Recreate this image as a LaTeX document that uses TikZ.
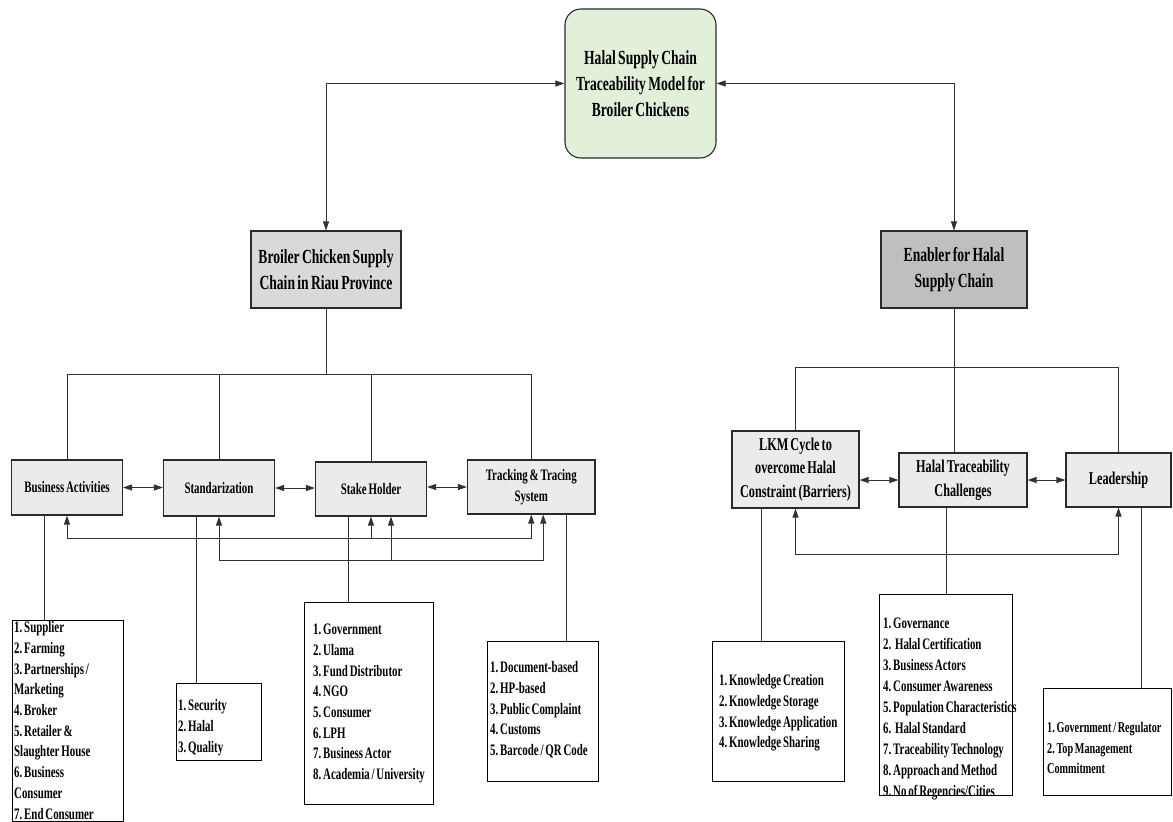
\documentclass[tikz,border=0pt]{standalone}
\usepackage{fontspec}
\setmainfont{Liberation Serif}[FakeStretch=0.68,WordSpace=0.68]
\usetikzlibrary{arrows.meta}

\definecolor{edgec}{HTML}{2A2A2A}
\definecolor{wirec}{HTML}{333333}
\definecolor{rootfill}{HTML}{E2EFD9}
\definecolor{hubfill}{HTML}{D9D9D9}
\definecolor{hubdark}{HTML}{BFBFBF}
\definecolor{itemfill}{HTML}{EBEBEB}

\begin{document}
\frenchspacing
\begin{tikzpicture}[x=1pt, y=-1pt,
  >={Triangle[length=9pt,width=6pt]},
  box/.style={draw=edgec, line width=1.1pt, inner sep=0pt, align=center, text=black},
  rootbox/.style={box, fill=rootfill, rounded corners=16pt, font=\fontsize{20}{26}\selectfont\bfseries},
  hubbox/.style={box, font=\fontsize{20}{26}\selectfont\bfseries},
  itembox/.style={box, fill=itemfill, font=\fontsize{16}{21}\selectfont\bfseries},
  itemboxr/.style={box, fill=itemfill, font=\fontsize{18}{23.5}\selectfont\bfseries},
  listbox/.style={draw=black, line width=0.9pt, fill=white, inner sep=0pt},
  listtext/.style={inner sep=0pt, anchor=north west, align=left, font=\fontsize{16}{20.7}\selectfont\bfseries},
  wire/.style={draw=wirec, line width=0.9pt},
]
\useasboundingbox (0,0) rectangle (1173,822);

% ---------- main nodes ----------
\node[rootbox, minimum width=151pt, minimum height=149pt] (root) at (640.5,83.5)
  {Halal Supply Chain\\Traceability Model for\\Broiler Chickens};
\node[hubbox, fill=hubfill, minimum width=150pt, minimum height=77pt] (broiler) at (326,269.5)
  {Broiler Chicken Supply\\Chain in Riau Province};
\node[hubbox, fill=hubdark, minimum width=146pt, minimum height=77pt] (enabler) at (954,269.5)
  {Enabler for Halal\\Supply Chain};

% ---------- supply chain components ----------
\node[itembox, minimum width=111pt, minimum height=55pt] (business) at (67,487.5) {Business Activities};
\node[itembox, minimum width=111pt, minimum height=56pt] (standard) at (219,488) {Standarization};
\node[itembox, minimum width=111pt, minimum height=54pt] (stake) at (371,489) {Stake Holder};
\node[itembox, minimum width=127.5pt, minimum height=54pt] (tracking) at (531.25,487) {Tracking \& Tracing\\System};

% ---------- enablers ----------
\node[itemboxr, minimum width=127pt, minimum height=77pt] (lkm) at (795.5,469.5)
  {LKM Cycle to\\overcome Halal\\Constraint (Barriers)};
\node[itemboxr, minimum width=128pt, minimum height=54pt] (challenge) at (963,480)
  {Halal Traceability\\Challenges};
\node[itemboxr, minimum width=105pt, minimum height=54pt] (leader) at (1118.5,480) {Leadership};

% ---------- detail lists ----------
\node[listbox, minimum width=111pt, minimum height=201pt] (busList) at (67.5,720.5) {};
\node[listtext] (busText) at (14,618) {\strut 1. Supplier\\2. Farming\\3. Partnerships /\\Marketing\\4. Broker\\5. Retailer \&\\Slaughter House\\6. Business\\Consumer\\7. End Consumer};

\node[listbox, minimum width=85pt, minimum height=77pt] (stdList) at (218.5,721.5) {};
\node[listtext] (stdText) at (178,696) {\strut 1. Security\\2. Halal\\3. Quality};

\node[listbox, minimum width=129pt, minimum height=202pt] (stakeList) at (368.5,703) {};
\node[listtext] (stakeText) at (313,620) {\strut 1. Government\\2. Ulama\\3. Fund Distributor\\4. NGO\\5. Consumer\\6. LPH\\7. Business Actor\\8. Academia / University};

\node[listbox, minimum width=111pt, minimum height=140pt] (trkList) at (542.5,711) {};
\node[listtext] (trkText) at (490,658) {\strut 1. Document-based\\2. HP-based\\3. Public Complaint\\4. Customs\\5. Barcode / QR Code};

\node[listbox, minimum width=132pt, minimum height=140pt] (lkmList) at (778,711) {};
\node[listtext] (lkmText) at (719,671) {\strut 1. Knowledge Creation\\2. Knowledge Storage\\3. Knowledge Application\\4. Knowledge Sharing};

\node[listbox, minimum width=133pt, minimum height=201pt] (chList) at (945.5,694.5) {};
\node[listtext, font=\fontsize{16}{20.9}\selectfont\bfseries] (chText) at (883,614) {\strut 1. Governance\\2.~ Halal Certification\\3. Business Actors\\4. Consumer Awareness\\5. Population Characteristics\\6.~ Halal Standard\\7. Traceability Technology\\8. Approach and Method\\9. No of Regencies/Cities};

\node[listbox, minimum width=128pt, minimum height=107pt] (ldList) at (1107,741.5) {};
\node[listtext, font=\fontsize{15}{20.5}\selectfont\bfseries] (ldText) at (1047,718) {\strut 1. Government / Regulator\\2. Top Management\\Commitment};

% ---------- links to the model ----------
\draw[wire,<->] (root.west) -| (broiler.north);
\draw[wire,<->] (root.east) -| (enabler.north);

% ---------- left tree ----------
\coordinate (lbus) at (326,374);
\draw[wire] (broiler.south) -- (lbus);
\draw[wire] (business.north) -- (business.north |- lbus) -- (tracking.north |- lbus) -- (tracking.north);
\draw[wire] (standard.north) -- (standard.north |- lbus);
\draw[wire] (stake.north) -- (stake.north |- lbus);

\draw[wire,<->] (business.east) -- (business.east -| standard.west);
\draw[wire,<->] (standard.east) -- (standard.east -| stake.west);
\draw[wire,<->] (stake.east |- tracking.west) -- (tracking.west);

% feedback loops under the components
\coordinate (loopA) at (0,538);
\coordinate (loopB) at (0,560);
\coordinate (trkB) at ([xshift=12pt]tracking.south);
\coordinate (stkB) at ([xshift=20pt]stake.south);
\draw[wire,<->] (business.south) -- (business.south |- loopA) -- (tracking.south |- loopA) -- (tracking.south);
\draw[wire,->] (stake.south |- loopA) -- (stake.south);
\draw[wire,<->] (standard.south) -- (standard.south |- loopB) -- (trkB |- loopB) -- (trkB);
\draw[wire,->] (stkB |- loopB) -- (stkB);

% drops to the lists
\coordinate (dBus) at ([xshift=-23pt]business.south);
\coordinate (dStd) at ([xshift=-23pt]standard.south);
\coordinate (dStk) at ([xshift=-23pt]stake.south);
\coordinate (dTrk) at ([xshift=34.75pt]tracking.south);
\draw[wire] (dBus) -- (dBus |- busList.north);
\draw[wire] (dStd) -- (dStd |- stdList.north);
\draw[wire] (dStk) -- (dStk |- stakeList.north);
\draw[wire] (dTrk) -- (dTrk |- trkList.north);

% ---------- right tree ----------
\coordinate (rbus) at (954,367);
\draw[wire] (enabler.south) -- (rbus) -- (rbus |- challenge.north);
\draw[wire] (lkm.north) -- (lkm.north |- rbus) -- (leader.north |- rbus) -- (leader.north);

\draw[wire,<->] (lkm.east |- challenge.west) -- (challenge.west);
\draw[wire,<->] (challenge.east) -- (leader.west);

\coordinate (loopR) at (0,554);
\draw[wire,<->] (lkm.south) -- (lkm.south |- loopR) -- (leader.south |- loopR) -- (leader.south);

\coordinate (dLkm) at ([xshift=-34.5pt]lkm.south);
\coordinate (dCh) at ([xshift=-17pt]challenge.south);
\coordinate (dLd) at ([xshift=22.5pt]leader.south);
\draw[wire] (dLkm) -- (dLkm |- lkmList.north);
\draw[wire] (dCh) -- (dCh |- chList.north);
\draw[wire] (dLd) -- (dLd |- ldList.north);

\end{tikzpicture}
\end{document}
